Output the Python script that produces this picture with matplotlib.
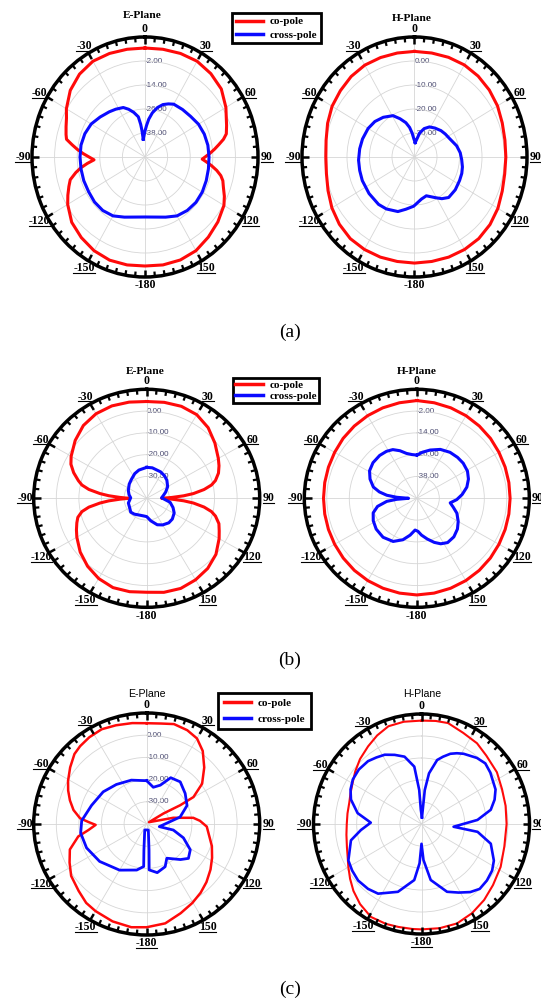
import numpy as np
import matplotlib
matplotlib.use('Agg')
import matplotlib.pyplot as plt
from matplotlib.lines import Line2D
from matplotlib.transforms import IdentityTransform

# ---- data (dB vs angle in degrees, clockwise from top) ----
# (a) E-plane
ang_ae_co = [0, 10, 20, 30, 40, 50, 60, 65, 70, 75, 78, 81, 84, 87, 90, 92, 94, 97, 100, 103, 106, 110, 115,
             120, 130, 140, 150, 160, 170, 180, -170, -160, -150, -140, -130, -120, -115, -110, -106, -102,
             -99, -96, -93, -90, -87, -84, -81, -78, -75, -70, -65, -60, -50, -40, -30, -20, -10, 0]
db_ae_co = [4.5, 4.7, 5.1, 5.3, 4.4, 2.9, -0.4, -2.4, -3.9, -5.3, -7.4, -10.3, -12.9, -15.5, -18.1, -19.6,
            -17.6, -14.4, -11.3, -8.7, -7.0, -5.7, -3.5, -1.6, 0.5, 2.3, 4.1, 4.8, 4.8, 4.5, 4.8, 4.9, 4.1,
            2.6, 0.8, -2.6, -4.8, -7.0, -8.7, -12.4, -15.5, -19.2, -22.9, -20.3, -17.1, -13.9, -10.8, -7.4,
            -6.6, -5.4, -4.0, -1.8, 1.8, 4.1, 5.3, 5.1, 4.7, 4.5]
ang_ae_x = [-6, 0, 3, 6, 10, 15, 20, 25, 30, 40, 50, 60, 70, 80, 90, 100, 110, 120, 130, 140, 150, 160, 170,
            180, -170, -160, -150, -140, -130, -120, -110, -100, -90, -80, -70, -60, -50, -40, -33, -25, -20,
            -15, -10, -8, -7, -6]
db_ae_x = [-41.0, -37.0, -34.2, -31.0, -27.6, -24.4, -22.1, -20.7, -19.5, -19.0, -18.4, -17.2, -16.5, -16.1,
           -16.0, -15.8, -15.4, -14.9, -14.7, -15.1, -16.0, -18.0, -19.5, -20.0, -19.5, -18.0, -16.0, -15.1,
           -15.0, -15.4, -15.4, -15.5, -15.5, -15.5, -16.0, -17.0, -18.9, -20.5, -21.5, -22.7, -24.6, -26.9,
           -29.6, -33.5, -36.5, -41.0]

# (a) H-plane
ang_ah_co = [0, 10, 20, 30, 40, 50, 60, 70, 80, 90, 100, 110, 120, 130, 140, 150, 160, 170, 180,
             -170, -160, -150, -140, -130, -120, -110, -100, -90, -80, -70, -60, -50, -40, -30, -20, -10, 0]
db_ah_co = [4.0, 4.0, 4.2, 4.3, 4.0, 3.4, 2.6, 1.5, 0.8, 0.6, 0.7, 1.5, 2.8, 3.8, 4.4, 4.5, 4.4, 4.2, 4.2,
            4.2, 4.4, 4.5, 4.4, 3.6, 2.4, 0.9, -0.25, -0.6, -0.1, 1.1, 2.3, 3.0, 3.8, 4.2, 4.1, 4.0, 4.0]
ang_ah_x = [3, 13, 20, 28, 37, 47, 55, 64, 76, 85, 93, 101, 108, 116, 127, 138, 145, 151, 162, 170, 181,
            -170, -162, -150, -141, -127, -113, -103, -93, -82, -72, -60, -50, -40, -29, -22, -15, -10, -6,
            -2, 3]
db_ah_x = [-34.0, -29.7, -27.4, -25.8, -24.9, -23.9, -23.3, -22.6, -20.7, -19.6, -19.0, -18.3, -17.9, -17.7,
           -17.3, -17.3, -18.8, -20.6, -23.0, -22.2, -19.5, -17.9, -16.1, -15.0, -14.6, -14.7, -14.8, -15.0,
           -15.1, -15.4, -15.7, -16.2, -17.0, -18.4, -20.3, -22.8, -25.2, -27.5, -30.0, -32.5, -34.0]

# (b) E-plane
ang_be_co = [0, 10, 20, 30, 40, 50, 60, 65, 70, 75, 78, 81, 84, 86, 88, 90, 92, 94, 96, 99, 102, 105, 110,
             115, 120, 130, 140, 150, 160, 170, 180, -170, -160, -150, -140, -130, -120, -115, -110, -106,
             -102, -99, -96, -94, -92, -90, -88, -86, -84, -81, -78, -75, -70, -65, -60, -50, -40, -30, -20,
             -10, 0]
db_be_co = [4.4, 4.7, 4.9, 4.3, 2.3, -0.6, -3.4, -4.7, -6.2, -8.5, -10.7, -14.3, -19.2, -23.6, -28.9, -33.4,
            -28.9, -23.6, -19.2, -14.3, -10.7, -8.5, -6.0, -4.6, -3.0, 0.0, 2.0, 3.2, 4.0, 3.8, 3.1, 3.5, 3.6,
            2.5, 0.7, -1.6, -4.3, -5.7, -7.1, -8.3, -10.7, -14.1, -19.2, -23.2, -28.1, -32.0, -28.1, -23.2,
            -19.2, -14.1, -10.7, -8.7, -5.6, -3.0, -1.4, 1.3, 3.6, 4.8, 5.1, 4.8, 4.4]
ang_be_x = [0, 10, 27, 37, 47, 60, 71, 80, 88, 100, 110, 119, 130, 139, 150, 159, 170, 180, -170, -153,
            -143, -132, -120, -105, -95, -88, -78, -66, -50, -38, -25, -15, 0]
db_be_x = [-25.8, -25.8, -26.4, -27.0, -27.8, -29.3, -31.1, -32.5, -33.4, -29.5, -27.6, -26.1, -25.2, -25.1,
           -25.9, -27.0, -29.5, -31.6, -31.8, -31.5, -30.9, -30.5, -31.3, -31.6, -32.5, -32.9, -32.0, -31.1,
           -29.9, -29.0, -27.5, -26.6, -25.8]

# (b) H-plane
ang_bh_co = [0, 10, 20, 30, 40, 50, 60, 70, 80, 90, 100, 110, 120, 130, 140, 150, 160, 170, 180,
             -170, -160, -150, -140, -130, -120, -110, -100, -90, -80, -70, -60, -50, -40, -30, -20, -10, 0]
db_bh_co = [3.8, 3.4, 3.0, 2.5, 1.9, 1.3, 0.6, 0.15, -0.14, -0.24, -0.14, 0.15, 0.6, 1.2, 1.8, 2.3, 2.7, 3.0,
            3.2, 3.0, 2.7, 2.3, 1.8, 1.2, 0.6, 0.15, -0.14, -0.24, -0.14, 0.15, 0.6, 1.3, 1.9, 2.5, 3.0, 3.4,
            3.8]
ang_bh_x = [0, 7, 15, 25, 35, 44, 52, 61, 69, 77, 85, 92, 98, 104, 111, 120, 128, 137, 146, 153, 159, 166,
            173, 178, -177, -170, -162, -152, -140, -128, -118, -109, -102, -96, -93, -90, -87, -84, -80,
            -75, -67, -59, -50, -40, -32, -25.5, -19, -12.5, -6, 0]
db_bh_x = [-26.2, -24.4, -22.5, -20.3, -19.1, -18.7, -18.6, -19.1, -20.5, -22.6, -25.7, -28.7, -32.0, -30.0,
           -27.1, -24.5, -22.5, -21.0, -20.6, -21.9, -24.0, -26.9, -29.6, -31.8, -32.5, -29.4, -26.0, -23.1,
           -22.0, -22.5, -23.7, -25.4, -28.6, -33.9, -39.3, -45.6, -39.3, -33.9, -29.7, -26.0, -22.9, -20.6,
           -19.5, -19.2, -19.5, -20.3, -22.3, -24.7, -25.8, -26.2]

# (c) E-plane
ang_ce_co = [0, 8, 15, 23, 30, 37, 45, 53.5, 59.6, 60.3, 57.4, 51, 76.6, 82.3, 86.5, 92.5, 109, 117.8, 126,
             134.7, 142.4, 150.4, 159.5, 169.6, 180, -171.7, -161, -150, -143, -135, -125, -117, -108.7,
             -100.5, -96, -91, -88, -85, -79, -72.6, -66.5, -60.7, -53, -45.4, -40, -33, -25, -17, -8, 0]
db_ce_co = [5.4, 5.7, 6.6, 5.9, 4.5, 1.2, -4.0, -9.5, -16.0, -22.9, -31.2, -38.7, -27.9, -19.2, -16.4,
            -13.4, -9.5, -7.3, -5.1, -2.8, -0.9, 0.9, 2.9, 5.5, 6.5, 7.0, 6.4, 5.3, 4.5, 2.6, 0.8, -1.7, -4.1,
            -9.2, -14.1, -17.4, -14.2, -10.4, -7.0, -4.4, -2.1, -0.1, 2.4, 4.9, 5.8, 6.6, 7.1, 6.5, 5.9, 5.4]
ang_ce_x = [0, 10, 19, 27, 38, 51, 65, 78, 102, 103, 111, 121, 130, 137, 150, 157, 168, 177, 175, 165,
            -162, -174, -176, -168, -150, -129, -112, -98, -87, -71, -53, -37, -19, 0]
db_ce_x = [-20.5, -23.2, -21.5, -16.6, -15.9, -18.1, -20.3, -24.9, -34.3, -27.9, -22.6, -17.5, -15.9, -18.1,
           -22.2, -19.1, -17.6, -19.3, -28.2, -37.2, -37.2, -28.2, -20.8, -18.8, -16.0, -13.2, -11.3, -10.5,
           -11.2, -14.2, -15.9, -17.7, -19.1, -20.5]

# (c) H-plane
ang_ch_co = [0, 8, 15, 25, 35, 44, 56, 67, 78, 90, 105, 118, 130, 140, 150, 160, 170, 180,
             -175, -167, -160, -151, -142, -134, -127, -120, -114, -107, -98, -90, -82, -74, -67, -60, -52,
             -44, -35, -27, -19, -10, 0]
db_ch_co = [7.0, 7.3, 7.5, 5.7, 4.8, 3.2, 2.1, 0.5, -0.2, -0.6, -0.3, 1.5, 3.2, 5.1, 6.8, 8.1, 8.1, 7.9,
            7.9, 8.0, 8.3, 8.3, 6.2, 3.8, 1.4, -0.9, -2.6, -3.9, -4.9, -5.4, -5.4, -5.2, -4.3, -3.1, -1.1,
            1.0, 3.1, 5.2, 7.0, 7.2, 7.0]
ang_ch_x = [4, 5.6, 8.6, 14, 18.1, 22.7, 27, 31.4, 40.5, 47, 53.8, 65.4, 71.9, 78.6, 85.9, 94.8, 97.8, 105.6,
            116.4, 122.9, 130.3, 137.6, 143.9, 151.1, 159, 170.5, 176.8, 180, -177.1, -172.5, -160.5, -147.6,
            -140, -131.2, -123.4, -116.1, -102.8, -95.6, -88.5, -80.5, -71.2, -64.5, -57.5, -49.5, -40.9,
            -34.6, -28.4, -21.6, -14.4, -7.3, -3.9, -2.7, 4]
db_ch_x = [-37.0, -24.5, -16.7, -10.0, -7.8, -5.4, -3.9, -2.6, -0.5, 0.4, -0.5, -2.3, -4.4, -7.3, -14.0,
           -25.1, -13.8, -6.7, -2.6, -1.05, -0.3, -0.05, -1.7, -4.4, -7.0, -14.2, -23.6, -31.0, -22.1, -14.3,
           -7.3, -2.5, -1.5, -1.0, -1.55, -2.3, -6.5, -11.8, -16.5, -10.0, -5.5, -3.6, -2.3, -1.85, -2.2,
           -3.25, -4.2, -6.2, -8.4, -13.7, -24.5, -33.6, -37.0]

rings_12 = [-38, -26, -14, -2]
rings_10 = [-30, -20, -10, 0]
theta_deg = [0, 30, 60, 90, 120, 150, 180, 210, 240, 270, 300, 330]
theta_txt = ['0', '30', '60', '90', '120', '150', '-180', '-150', '-120', '-90', '-60', '-30']

W, H = 541, 1001
RED = '#ff0a0a'
BLUE = '#0a0aff'

fig = plt.figure(figsize=(W / 100, H / 100), dpi=100)
fig.patch.set_facecolor('white')
to_underline = []


def polar_at(cx, cy, rx, ry):
    ax = fig.add_axes([(cx - rx) / W, 1 - (cy + ry) / H, 2 * rx / W, 2 * ry / H], projection='polar')
    ax.px_per_unit = ry
    return ax


def pattern(ax, r0, r1, rings, labelled, co, cross, lw_co, lw_x, ul_180=False):
    ax.set_theta_zero_location('N')
    ax.set_theta_direction(-1)
    ax.set_aspect('auto')
    ax.set_ylim(r0, r1)
    ax.set_yticks(rings)
    ax.set_yticklabels([])
    ax.tick_params(axis='y', length=0)
    ax.set_xticks(np.deg2rad(np.arange(0, 360, 30)))
    ax.set_xticklabels([])
    ax.grid(True, which='major', color='#d6d6d6', lw=0.6)
    ax.spines['polar'].set_linewidth(2.5)

    # inward tick marks on the outer ring, every 5 degrees
    ppd = ax.px_per_unit / (r1 - r0)
    minor = np.deg2rad([a for a in range(0, 360, 5) if a % 30])
    major = np.deg2rad(np.arange(0, 360, 30))
    ax.vlines(minor, r1 - 5.0 / ppd, r1, colors='black', lw=1.6, zorder=5)
    ax.vlines(major, r1 - 7.0 / ppd, r1, colors='black', lw=1.8, zorder=5)

    if labelled:
        for r in rings:
            ax.text(0, r, '%.2f' % r, ha='left', va='center', fontsize=5.8,
                    family='Liberation Sans', color='#4a4a70', zorder=1)

    ax.plot(np.deg2rad(co[0]), co[1], color=RED, lw=lw_co, zorder=3, solid_joinstyle='round')
    ax.plot(np.deg2rad(cross[0]), cross[1], color=BLUE, lw=lw_x, zorder=4, solid_joinstyle='round')
    ax.set_ylim(r0, r1)

    for a, s in zip(theta_deg, theta_txt):
        th = np.deg2rad(a)
        t = ax.annotate(s, xy=(th, r1), xytext=(6.3 * np.sin(th), 6.0 * np.cos(th)),
                        textcoords='offset points', ha='center', va='center',
                        fontsize=8.5, fontweight='bold', family='Liberation Serif',
                        annotation_clip=False)
        if a != 0 and (a != 180 or ul_180):
            to_underline.append(t)


ax = polar_at(145, 157, 113, 120)
pattern(ax, -50, 10, rings_12, True, (ang_ae_co, db_ae_co), (ang_ae_x, db_ae_x), 2.2, 2.2)
ax = polar_at(414.5, 157, 112.5, 120)
pattern(ax, -40, 10, rings_10, True, (ang_ah_co, db_ah_co), (ang_ah_x, db_ah_x), 2.2, 2.2)
ax = polar_at(146.7, 498.3, 113, 109)
pattern(ax, -40, 10, rings_10, True, (ang_be_co, db_be_co), (ang_be_x, db_be_x), 2.2, 2.2)
ax = polar_at(416.8, 498.3, 112.5, 109)
pattern(ax, -50, 10, rings_12, True, (ang_bh_co, db_bh_co), (ang_bh_x, db_bh_x), 2.2, 2.2)
ax = polar_at(146.7, 824, 113, 111)
pattern(ax, -40, 10, rings_10, True, (ang_ce_co, db_ce_co), (ang_ce_x, db_ce_x), 1.8, 2.0, ul_180=True)
ax = polar_at(421.5, 824, 108, 110)
pattern(ax, -40, 10, rings_10, False, (ang_ch_co, db_ch_co), (ang_ch_x, db_ch_x), 1.5, 1.9, ul_180=True)

# titles
serif_b = dict(family='Liberation Serif', fontweight='bold', fontsize=8.2, ha='center', va='center')
sans = dict(family='Liberation Sans', fontsize=7.6, ha='center', va='center')
fig.text(142 / W, 1 - 16 / H, 'E-Plane', **serif_b)
fig.text(412 / W, 1 - 18 / H, 'H-Plane', **serif_b)
fig.text(145 / W, 1 - 371 / H, 'E-Plane', **serif_b)
fig.text(417 / W, 1 - 371 / H, 'H-Plane', **serif_b)
fig.text(147 / W, 1 - 694 / H, 'E-Plane', **sans)
fig.text(422 / W, 1 - 694 / H, 'H-Plane', **sans)

# captions
for lab, y in [('(a)', 332), ('(b)', 660), ('(c)', 989)]:
    fig.text(290 / W, 1 - y / H, lab, ha='center', va='center', fontsize=14, family='Liberation Serif')

# legends
handles = [Line2D([], [], color=RED, lw=2.5), Line2D([], [], color=BLUE, lw=2.5)]
for (x, y, ls, bp) in [(232, 13, 0.3, 0.33), (233, 378, 0.1, 0.2), (218, 693, 0.5, 0.5)]:
    leg = fig.legend(handles, ['co-pole', 'cross-pole'], loc='upper left',
                     bbox_to_anchor=(x / W, 1 - y / H), frameon=True, fancybox=False,
                     edgecolor='black', framealpha=1, borderaxespad=0,
                     prop={'family': 'Liberation Serif', 'weight': 'bold', 'size': 8},
                     handlelength=2.5, handletextpad=0.6, borderpad=bp, labelspacing=ls)
    leg.get_frame().set_linewidth(2.0)

# underline the angle labels
fig.canvas.draw()
renderer = fig.canvas.get_renderer()
for t in to_underline:
    bb = t.get_window_extent(renderer=renderer)
    fig.add_artist(Line2D([bb.x0, bb.x1], [bb.y0 + 1.2, bb.y0 + 1.2], transform=IdentityTransform(),
                          color='black', lw=0.8))

fig.savefig('out.png', dpi=100, facecolor='white')
